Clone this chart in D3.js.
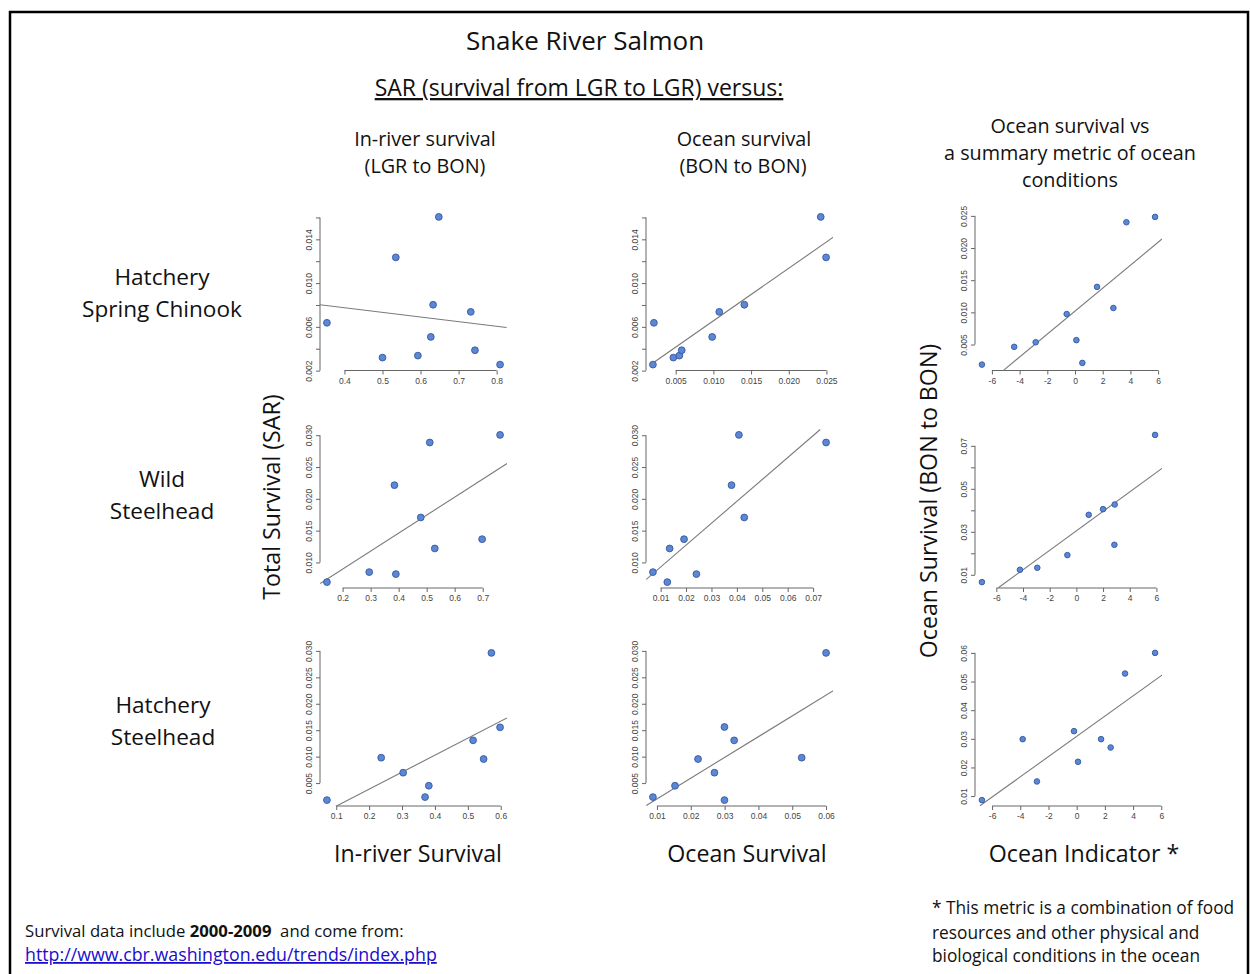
<!DOCTYPE html>
<meta charset="utf-8">
<head>
    <title>Snake River Salmon</title>
    <script type="text/javascript" src="https://cdnjs.cloudflare.com/ajax/libs/d3/7.8.5/d3.min.js"></script>
    <style>
        body { margin: 0; padding: 0; background: white; }
        .big { font-family: "Open Sans", Lato, sans-serif; fill: #111; }
        .tick text { font-family: "Liberation Sans", Arial, sans-serif; font-size: 8.5px; fill: #444; }
    </style>
</head>
<body>
<script>
    const width = 1250, height = 974;

    // ---- data ----
    // row 1: hatchery spring chinook
    const hscRiver   = [0.354, 0.500, 0.535, 0.593, 0.627, 0.633, 0.648, 0.732, 0.743, 0.809];
    const hscSarR    = [0.00637, 0.00319, 0.01235, 0.00337, 0.00508, 0.00802, 0.01605, 0.00737, 0.00386, 0.00255];
    const hscOcean   = [0.00198, 0.00211, 0.00469, 0.00549, 0.00580, 0.00984, 0.01078, 0.01411, 0.02424, 0.02495];
    const hscSarO    = [0.00255, 0.00637, 0.00319, 0.00337, 0.00386, 0.00508, 0.00737, 0.00802, 0.01605, 0.01235];
    const hscIndex   = [-6.72, -4.39, -2.84, -0.60, 0.10, 0.53, 1.59, 2.77, 3.71, 5.78];
    const hscOceanI  = [0.00188, 0.00464, 0.00536, 0.00974, 0.00568, 0.00214, 0.01396, 0.01068, 0.02401, 0.02484];
    // row 2: wild steelhead
    const wstRiver   = [0.144, 0.295, 0.385, 0.390, 0.479, 0.511, 0.529, 0.698, 0.762];
    const wstSarR    = [0.00691, 0.00848, 0.02215, 0.00817, 0.01707, 0.02885, 0.01220, 0.01366, 0.03005];
    const wstOcean   = [0.00697, 0.01263, 0.01355, 0.01921, 0.02408, 0.0379, 0.0408, 0.0429, 0.0751];
    const wstSarO    = [0.00848, 0.00691, 0.01220, 0.01366, 0.00817, 0.02215, 0.03005, 0.01707, 0.02885];
    const wstIndex   = [-7.08, -4.23, -2.93, -0.675, 0.925, 2.0, 2.875, 2.85, 5.9];
    const wstOceanI  = [0.00659, 0.01233, 0.01326, 0.01915, 0.0379, 0.04054, 0.04271, 0.02395, 0.0751];
    // row 3: hatchery steelhead
    const hstRiver   = [0.0717, 0.2366, 0.3034, 0.370, 0.3814, 0.516, 0.548, 0.5717, 0.598];
    const hstSarR    = [0.00178, 0.0098, 0.00696, 0.00235, 0.0045, 0.01308, 0.00955, 0.02962, 0.01554];
    const hstOcean   = [0.00881, 0.01534, 0.02215, 0.0270, 0.02996, 0.02996, 0.03283, 0.05279, 0.0600];
    const hstSarO    = [0.00235, 0.0045, 0.00955, 0.00696, 0.01561, 0.00178, 0.01308, 0.0098, 0.02962];
    const hstIndex   = [-6.72, -3.83, -2.82, -0.19, 0.095, 1.73, 2.41, 3.43, 5.56];
    const hstOceanI  = [0.0086, 0.02988, 0.01512, 0.03267, 0.02198, 0.02988, 0.02698, 0.05279, 0.0600];

    // fitted lines (two points each, in data units)
    const fitLines = [
        [[0.335, 0.00802], [0.826, 0.00594]],
        [[0.00198, 0.0027], [0.02607, 0.01427]],
        [[-5.25, 0.00083], [6.34, 0.0215]],
        [[0.120, 0.0067], [0.787, 0.02555]],
        [[0.00434, 0.00733], [0.0728, 0.0309]],
        [[-5.85, 0.00395], [6.475, 0.05977]],
        [[0.098, 0.00058], [0.619, 0.01731]],
        [[0.00684, 0.00077], [0.06237, 0.02255]],
        [[-6.86, 0.00663], [6.11, 0.05244]]
    ];

    // tick values and labels
    const ticksSar1   = [0.002, 0.004, 0.006, 0.008, 0.010, 0.012, 0.014, 0.016];
    const labelsSar1  = ["0.002", "", "0.006", "", "0.010", "", "0.014", ""];
    const ticksSar2   = [0.010, 0.015, 0.020, 0.025, 0.030];
    const labelsSar2  = ["0.010", "0.015", "0.020", "0.025", "0.030"];
    const ticksSar3   = [0.005, 0.010, 0.015, 0.020, 0.025, 0.030];
    const labelsSar3  = ["0.005", "0.010", "0.015", "0.020", "0.025", "0.030"];
    const ticksOcI1   = [0.005, 0.010, 0.015, 0.020, 0.025];
    const labelsOcI1  = ["0.005", "0.010", "0.015", "0.020", "0.025"];
    const ticksOcI2   = [0.01, 0.02, 0.03, 0.04, 0.05, 0.06, 0.07];
    const labelsOcI2  = ["0.01", "", "0.03", "", "0.05", "", "0.07"];
    const ticksOcI3   = [0.01, 0.02, 0.03, 0.04, 0.05, 0.06];
    const labelsOcI3  = ["0.01", "0.02", "0.03", "0.04", "0.05", "0.06"];
    const ticksRiv1   = [0.4, 0.5, 0.6, 0.7, 0.8];
    const ticksRiv2   = [0.2, 0.3, 0.4, 0.5, 0.6, 0.7];
    const ticksRiv3   = [0.1, 0.2, 0.3, 0.4, 0.5, 0.6];
    const ticksOce1   = [0.005, 0.010, 0.015, 0.020, 0.025];
    const labelsOce1  = ["0.005", "0.010", "0.015", "0.020", "0.025"];
    const ticksOce2   = [0.01, 0.02, 0.03, 0.04, 0.05, 0.06, 0.07];
    const ticksOce3   = [0.01, 0.02, 0.03, 0.04, 0.05, 0.06];
    const ticksIdx    = [-6, -4, -2, 0, 2, 4, 6];

    // plot regions on the page
    const colX = [[320, 507], [646, 833], [975, 1162]];
    const rowY = [[211, 370.5], [429, 588], [647, 806]];

    const panels = [
        {row: 0, col: 0, x: hscRiver, y: hscSarR, xt: ticksRiv1, yt: ticksSar1, yl: labelsSar1},
        {row: 0, col: 1, x: hscOcean, y: hscSarO, xt: ticksOce1, xl: labelsOce1, yt: ticksSar1, yl: labelsSar1},
        {row: 0, col: 2, x: hscIndex, y: hscOceanI, xt: ticksIdx, yt: ticksOcI1, yl: labelsOcI1},
        {row: 1, col: 0, x: wstRiver, y: wstSarR, xt: ticksRiv2, yt: ticksSar2, yl: labelsSar2},
        {row: 1, col: 1, x: wstOcean, y: wstSarO, xt: ticksOce2, yt: ticksSar2, yl: labelsSar2},
        {row: 1, col: 2, x: wstIndex, y: wstOceanI, xt: ticksIdx, yt: ticksOcI2, yl: labelsOcI2},
        {row: 2, col: 0, x: hstRiver, y: hstSarR, xt: ticksRiv3, yt: ticksSar3, yl: labelsSar3},
        {row: 2, col: 1, x: hstOcean, y: hstSarO, xt: ticksOce3, yt: ticksSar3, yl: labelsSar3},
        {row: 2, col: 2, x: hstIndex, y: hstOceanI, xt: ticksIdx, yt: ticksOcI3, yl: labelsOcI3}
    ];

    const svg = d3.select("body").append("svg")
        .attr("width", width)
        .attr("height", height);

    svg.append("rect").attr("width", width).attr("height", height).attr("fill", "white");

    // frame
    svg.append("path")
        .attr("d", `M10,${height} L10,12 L1248,12 L1248,${height}`)
        .attr("fill", "none")
        .attr("stroke", "black")
        .attr("stroke-width", 2.5);

    // R style padded domain
    function padded(vals) {
        const [lo, hi] = d3.extent(vals);
        const p = (hi - lo) * 0.04;
        return [lo - p, hi + p];
    }

    panels.forEach((p, i) => {
        const [x0, x1] = colX[p.col];
        const [y0, y1] = rowY[p.row];
        const x = d3.scaleLinear().domain(padded(p.x)).range([x0, x1]);
        const y = d3.scaleLinear().domain(padded(p.y)).range([y1, y0]);

        const g = svg.append("g");

        g.append("clipPath").attr("id", "clip" + i)
            .append("rect")
            .attr("x", x0).attr("y", y0)
            .attr("width", x1 - x0).attr("height", y1 - y0);

        // x axis
        const xa = g.append("g")
            .attr("transform", `translate(0,${y1})`)
            .call(d3.axisBottom(x).tickValues(p.xt).tickSize(4).tickPadding(3)
                .tickFormat((d, k) => p.xl ? p.xl[k] : String(d)));
        xa.select(".domain").remove();
        xa.append("line")
            .attr("x1", x(p.xt[0])).attr("x2", x(p.xt[p.xt.length - 1]))
            .attr("stroke", "#666");
        xa.selectAll(".tick line").attr("stroke", "#666");

        // y axis, labels turned like R does
        const ya = g.append("g")
            .attr("transform", `translate(${x0},0)`)
            .call(d3.axisLeft(y).tickValues(p.yt).tickSize(4)
                .tickFormat((d, k) => p.yl[k]));
        ya.select(".domain").remove();
        ya.append("line")
            .attr("y1", y(p.yt[0])).attr("y2", y(p.yt[p.yt.length - 1]))
            .attr("stroke", "#666");
        ya.selectAll(".tick line").attr("stroke", "#666");
        ya.selectAll(".tick text")
            .attr("transform", "rotate(-90)")
            .attr("x", 0)
            .attr("y", -8)
            .attr("dy", 0)
            .attr("text-anchor", "middle");

        // fitted line
        const fl = fitLines[i];
        g.append("line")
            .attr("clip-path", `url(#clip${i})`)
            .attr("x1", x(fl[0][0])).attr("y1", y(fl[0][1]))
            .attr("x2", x(fl[1][0])).attr("y2", y(fl[1][1]))
            .attr("stroke", "#7a7a7a")
            .attr("stroke-width", 1.1);

        // points
        g.selectAll("circle")
            .data(p.x.map((v, k) => [v, p.y[k]]))
            .enter()
            .append("circle")
            .attr("cx", d => x(d[0]))
            .attr("cy", d => y(d[1]))
            .attr("r", p.col === 2 ? 2.8 : 3.4)
            .attr("fill", "#5b87d6")
            .attr("stroke", "#36589e")
            .attr("stroke-width", 0.9);
    });

    // ---- text ----
    function txt(x, y, s, size, anchor) {
        return svg.append("text")
            .attr("class", "big")
            .attr("x", x).attr("y", y)
            .attr("font-size", size)
            .attr("text-anchor", anchor || "middle")
            .text(s);
    }

    txt(585, 50, "Snake River Salmon", 26);
    txt(579, 96, "SAR (survival from LGR to LGR) versus:", 23)
        .attr("text-decoration", "underline");

    txt(425, 146, "In-river survival", 19.8);
    txt(425, 173, "(LGR to BON)", 19.8);
    txt(744, 146, "Ocean survival", 19.8);
    txt(743, 173, "(BON to BON)", 19.8);
    txt(1070, 133, "Ocean survival vs", 19.8);
    txt(1070, 160, "a summary metric of ocean", 19.8);
    txt(1070, 187, "conditions", 19.8);

    txt(162, 285, "Hatchery", 22.6);
    txt(162, 317, "Spring Chinook", 22.6);
    txt(162, 487, "Wild", 22.6);
    txt(162, 519, "Steelhead", 22.6);
    txt(163, 713, "Hatchery", 22.6);
    txt(163, 745, "Steelhead", 22.6);

    txt(0, 0, "Total Survival (SAR)", 23.2)
        .attr("transform", "translate(280,497) rotate(-90)");
    txt(0, 0, "Ocean Survival (BON to BON)", 23.2)
        .attr("transform", "translate(937,501) rotate(-90)");

    txt(418, 862, "In-river Survival", 23.2);
    txt(747, 862, "Ocean Survival", 23.2);
    txt(1084, 862, "Ocean Indicator *", 23.2);

    const foot = txt(25, 937, "", 16.7, "start");
    foot.append("tspan").text("Survival data include ");
    foot.append("tspan").attr("font-weight", "bold").text("2000-2009");
    foot.append("tspan").text("\u00a0 and come from:");
    txt(25, 961, "http://www.cbr.washington.edu/trends/index.php", 17.8, "start")
        .style("fill", "#1a0dcc")
        .attr("text-decoration", "underline");

    txt(932, 914, "* This metric is a combination of food", 17.3, "start");
    txt(932, 939, "resources and other physical and", 17.3, "start");
    txt(932, 962, "biological conditions in the ocean", 17.3, "start");
</script>
</body>
</html>
